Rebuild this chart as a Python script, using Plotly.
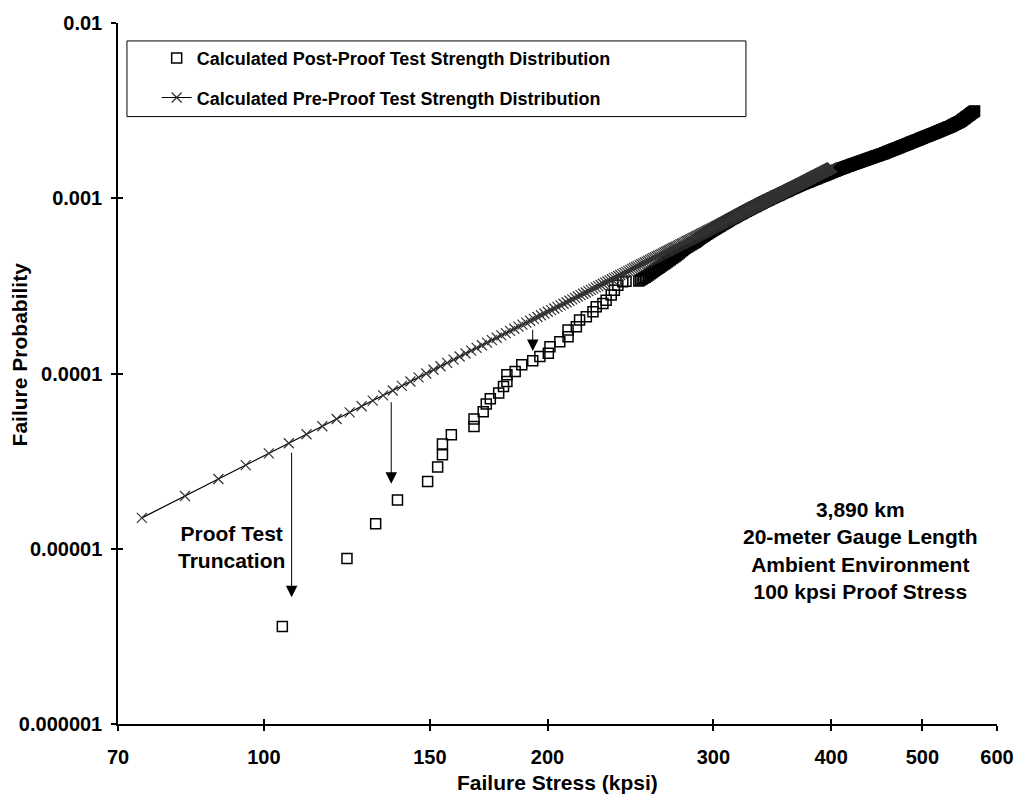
import math
import plotly.graph_objects as go

# ---------------------------------------------------------------- data
# Pre-proof (calculated Weibull) strength distribution: stress in kpsi,
# failure probability in parts per million.
pre_stress = [
    74.20, 82.45, 89.47, 95.65, 101.21, 106.28, 110.97, 115.34, 119.44, 123.30,
    126.98, 130.47, 133.81, 137.01, 140.09, 143.05, 145.92, 148.69, 151.37, 153.97,
    156.50, 158.96, 161.35, 163.69, 165.97, 168.19, 170.37, 172.50, 174.58, 176.63,
    178.63, 180.60, 182.52, 184.41, 186.28, 188.10, 189.90, 191.67, 193.41, 195.13,
    196.82, 198.48, 200.12, 201.74, 203.34, 204.91, 206.47, 208.00, 209.52, 211.01,
    212.49, 213.95, 215.39, 216.82, 218.23, 219.63, 221.00, 222.37, 223.72, 225.05,
    226.38, 227.69, 228.99, 230.27, 231.54, 232.81, 234.06, 235.29, 236.51, 237.73,
    238.93, 240.13, 241.32, 242.50, 243.66, 244.82, 245.96, 247.10, 248.23, 249.34,
    250.46, 251.56, 252.65, 253.73, 254.81, 255.87, 256.94, 257.99, 259.04, 260.07,
    261.11, 262.13, 263.15, 264.16, 265.17, 266.16, 267.16, 268.14, 269.12, 270.10,
    271.06, 272.02, 272.98, 273.93, 274.87, 275.81, 276.75, 277.67, 278.59, 279.51,
    280.42, 281.33, 282.23, 283.13, 284.02, 284.91, 285.79, 286.67, 287.54, 288.41,
    289.28, 290.13, 290.99, 291.84, 292.69, 293.52, 294.37, 295.20, 296.03, 296.86,
    297.68, 298.50, 299.32, 300.13, 300.93, 301.73, 302.54, 303.33, 304.13, 304.91,
    305.70, 306.47, 307.25, 308.03, 308.80, 309.57, 310.33, 311.09, 311.84, 312.60,
    313.35, 314.11, 314.85, 315.59, 316.33, 317.06, 317.80, 318.53, 319.25, 319.96,
    320.68, 321.40, 322.11, 322.83, 323.54, 324.26, 324.97, 325.69, 326.38, 327.07,
    327.76, 328.45, 329.14, 329.82, 330.51, 331.20, 331.89, 332.58, 333.25, 333.91,
    334.58, 335.24, 335.91, 336.57, 337.24, 337.90, 338.57, 339.23, 339.87, 340.52,
    341.16, 341.81, 342.45, 343.09, 343.74, 344.38, 345.03, 345.67, 346.29, 346.92,
    347.54, 348.17, 348.79, 349.41, 350.04, 350.66, 351.29, 351.91, 352.52, 353.12,
    353.73, 354.33, 354.94, 355.54, 356.15, 356.75, 357.36, 357.96, 358.55, 359.13,
    359.72, 360.31, 360.90, 361.48, 362.07, 362.66, 363.24, 363.83, 364.40, 364.97,
    365.55, 366.12, 366.69, 367.26, 367.83, 368.41, 368.98, 369.55, 370.11, 370.66,
    371.22, 371.77, 372.34, 372.89, 373.45, 374.01, 374.56, 375.12, 375.66, 376.21,
    376.75, 377.29, 377.84, 378.38, 378.92, 379.46, 380.01, 380.55, 381.08, 381.61,
    382.14, 382.67, 383.20, 383.73, 384.26, 384.79, 385.32, 385.85, 386.37, 386.89,
    387.40, 387.92, 388.44, 388.96, 389.48, 389.99, 390.51, 391.03, 391.54, 392.04,
    392.55, 393.05, 393.56, 394.07, 394.57, 395.08, 395.58, 396.09, 396.59, 397.08,
    397.58, 398.07, 398.57, 399.07, 399.56, 400.06, 400.55, 401.04,
]
pre_prob_ppm = [
    15, 20, 25, 30, 35, 40, 45, 50, 55, 60, 65, 70, 75, 80, 85, 90, 95, 100, 105, 110,
    115, 120, 125, 130, 135, 140, 145, 150, 155, 160, 165, 170, 175, 180, 185, 190, 195, 200, 205, 210,
    215, 220, 225, 230, 235, 240, 245, 250, 255, 260, 265, 270, 275, 280, 285, 290, 295, 300, 305, 310,
    315, 320, 325, 330, 335, 340, 345, 350, 355, 360, 365, 370, 375, 380, 385, 390, 395, 400, 405, 410,
    415, 420, 425, 430, 435, 440, 445, 450, 455, 460, 465, 470, 475, 480, 485, 490, 495, 500, 505, 510,
    515, 520, 525, 530, 535, 540, 545, 550, 555, 560, 565, 570, 575, 580, 585, 590, 595, 600, 605, 610,
    615, 620, 625, 630, 635, 640, 645, 650, 655, 660, 665, 670, 675, 680, 685, 690, 695, 700, 705, 710,
    715, 720, 725, 730, 735, 740, 745, 750, 755, 760, 765, 770, 775, 780, 785, 790, 795, 800, 805, 810,
    815, 820, 825, 830, 835, 840, 845, 850, 855, 860, 865, 870, 875, 880, 885, 890, 895, 900, 905, 910,
    915, 920, 925, 930, 935, 940, 945, 950, 955, 960, 965, 970, 975, 980, 985, 990, 995, 1000, 1005, 1010,
    1015, 1020, 1025, 1030, 1035, 1040, 1045, 1050, 1055, 1060, 1065, 1070, 1075, 1080, 1085, 1090, 1095, 1100, 1105, 1110,
    1115, 1120, 1125, 1130, 1135, 1140, 1145, 1150, 1155, 1160, 1165, 1170, 1175, 1180, 1185, 1190, 1195, 1200, 1205, 1210,
    1215, 1220, 1225, 1230, 1235, 1240, 1245, 1250, 1255, 1260, 1265, 1270, 1275, 1280, 1285, 1290, 1295, 1300, 1305, 1310,
    1315, 1320, 1325, 1330, 1335, 1340, 1345, 1350, 1355, 1360, 1365, 1370, 1375, 1380, 1385, 1390, 1395, 1400, 1405, 1410,
    1415, 1420, 1425, 1430, 1435, 1440, 1445, 1450, 1455, 1460, 1465, 1470, 1475, 1480, 1485, 1490, 1495, 1500,
]

# Post-proof (measured) strength distribution: stress in kpsi,
# failure probability in parts per million.
post_stress = [
    104.6, 122.5, 131.4, 138.6, 149.2, 152.9, 154.7, 154.7, 158.1, 167.1,
    167.1, 170.9, 172.2, 173.9, 177.5, 179.6, 181.1, 181.1, 184.8, 187.8,
    192.9, 196.3, 200.4, 201.2, 206.1, 210.3, 210.3, 214.6, 216.3, 219.9,
    223.5, 225.3, 229.0, 230.8, 233.7, 235.5, 237.5, 240.4, 242.3,
    250, 251, 252, 253, 254, 255, 256, 257, 258, 259, 260, 261, 262, 263, 264, 265, 266, 267, 268, 269,
    270, 271, 272, 273, 274, 275, 276, 277, 278, 279, 280, 281, 282, 283, 284, 285, 286, 287, 288, 289,
    290, 291, 292, 293, 294, 295, 296, 297, 298, 299, 300, 301, 302, 303, 304, 305, 306, 307, 308, 309,
    310, 311, 312, 313, 314, 315, 316, 317, 318, 319, 320, 321, 322, 323, 324, 325, 326, 327, 328, 329,
    330, 331, 332, 333, 334, 335, 336, 337, 338, 339, 340, 341, 342, 343, 344, 345, 346, 347, 348, 349,
    350, 351, 352, 353, 354, 355, 356, 357, 358, 359, 360, 361, 362, 363, 364, 365, 366, 367, 368, 369,
    370, 371, 372, 373, 374, 375, 376, 377, 378, 379, 380, 381, 382, 383, 384, 385, 386, 387, 388, 389,
    390, 391, 392, 393, 394, 395, 396, 397, 398, 399, 400, 401, 402, 403, 404, 405, 406, 407, 408, 409,
    410, 411, 412, 413, 414, 415, 416, 417, 418, 419, 420, 421, 422, 423, 424, 425, 426, 427, 428, 429,
    430, 431, 432, 433, 434, 435, 436, 437, 438, 439, 440, 441, 442, 443, 444, 445, 446, 447, 448, 449,
    450, 451, 452, 453, 454, 455, 456, 457, 458, 459, 460, 461, 462, 463, 464, 465, 466, 467, 468, 469,
    470, 471, 472, 473, 474, 475, 476, 477, 478, 479, 480, 481, 482, 483, 484, 485, 486, 487, 488, 489,
    490, 491, 492, 493, 494, 495, 496, 497, 498, 499, 500, 501, 502, 503, 504, 505, 506, 507, 508, 509,
    510, 511, 512, 513, 514, 515, 516, 517, 518, 519, 520, 521, 522, 523, 524, 525, 526, 527, 528, 529,
    530, 531, 532, 533, 534, 535, 536, 537, 538, 539, 540, 541, 542, 543, 544, 545, 546, 547, 548, 549,
    550, 551, 552, 553, 554, 555, 556, 557, 558, 559, 560, 561, 562, 563, 564, 565, 566, 567, 568,
]
post_prob_ppm = [
    3.6, 8.8, 13.9, 19.0, 24.2, 29.3, 34.4, 39.6, 44.7, 49.9,
    55.0, 60.5, 66.9, 71.8, 77.3, 84.4, 90.1, 98.3, 102.7, 112.0,
    118.1, 124.9, 130.4, 142.3, 152.0, 162.3, 177.2, 184.9, 201.9, 210.8,
    225.1, 240.3, 250.8, 262.2, 280.1, 298.9, 319.2, 333.3, 336.0,
    337.6, 341.8, 346.0, 350.2, 354.4, 359.6, 365.1, 370.6, 376.2, 381.7, 387.2, 392.9, 398.7, 404.5, 410.3, 416.2, 422.0, 427.8, 434.0, 440.2,
    446.4, 452.6, 458.8, 465.0, 472.0, 479.7, 487.4, 495.2, 502.9, 510.6, 518.4, 524.8, 531.0, 537.1, 543.3, 549.4, 555.5, 561.7, 569.2, 577.0,
    584.7, 592.4, 600.1, 607.8, 615.5, 622.8, 630.0, 637.3, 644.5, 651.7, 659.0, 666.2, 673.4, 680.7, 688.0, 695.5, 703.0, 710.5, 718.0, 725.4,
    732.9, 740.4, 747.9, 755.4, 762.8, 770.3, 777.8, 785.1, 792.4, 799.7, 807.0, 814.3, 821.7, 829.0, 836.3, 843.6, 850.9, 858.2, 865.5, 872.8,
    880.2, 887.6, 895.1, 902.6, 910.0, 917.5, 925.0, 932.4, 939.9, 947.3, 954.8, 962.3, 969.7, 977.2, 984.7, 992.1, 999.6, 1007.0, 1014.5, 1022.0,
    1029.4, 1036.9, 1044.4, 1051.8, 1059.3, 1066.8, 1074.2, 1081.7, 1089.5, 1097.3, 1105.2, 1113.0, 1120.8, 1128.6, 1136.4, 1144.3, 1152.1, 1159.9, 1167.7, 1175.5,
    1183.3, 1190.6, 1197.7, 1204.7, 1211.8, 1218.8, 1225.9, 1232.9, 1240.0, 1247.0, 1254.1, 1261.2, 1268.2, 1275.3, 1282.3, 1289.7, 1297.1, 1304.5, 1311.8, 1319.2,
    1326.6, 1334.0, 1341.3, 1348.7, 1356.1, 1363.5, 1370.9, 1378.2, 1385.6, 1393.2, 1400.8, 1408.4, 1416.1, 1423.7, 1431.3, 1438.9, 1446.6, 1454.2, 1461.8, 1469.5,
    1477.1, 1484.7, 1492.3, 1500.0, 1507.0, 1514.0, 1521.1, 1528.1, 1535.1, 1542.1, 1549.2, 1556.2, 1563.2, 1570.2, 1577.3, 1584.3, 1591.3, 1598.3, 1605.3, 1612.4,
    1619.4, 1626.4, 1633.5, 1640.5, 1647.7, 1655.0, 1662.4, 1669.7, 1677.1, 1684.4, 1691.8, 1699.1, 1706.5, 1713.8, 1721.2, 1728.5, 1735.9, 1743.2, 1750.6, 1757.9,
    1765.3, 1772.6, 1780.0, 1787.3, 1794.7, 1802.0, 1810.8, 1819.5, 1828.3, 1837.0, 1845.8, 1854.6, 1863.3, 1872.1, 1880.8, 1889.6, 1898.4, 1907.1, 1915.9, 1924.7,
    1933.4, 1942.2, 1950.9, 1959.7, 1968.5, 1977.2, 1986.0, 1994.7, 2003.7, 2012.9, 2022.1, 2031.3, 2040.5, 2049.7, 2058.9, 2068.1, 2077.3, 2086.6, 2095.8, 2105.0,
    2114.2, 2123.4, 2132.6, 2141.8, 2151.0, 2160.2, 2169.8, 2179.4, 2189.1, 2198.8, 2208.5, 2218.1, 2227.8, 2237.5, 2247.2, 2256.8, 2266.5, 2276.2, 2285.8, 2295.5,
    2305.2, 2314.9, 2324.5, 2334.2, 2344.1, 2354.5, 2364.9, 2375.3, 2385.6, 2396.0, 2406.4, 2416.7, 2427.1, 2437.5, 2447.9, 2458.2, 2468.6, 2479.0, 2489.3, 2499.7,
    2510.0, 2520.4, 2530.8, 2541.2, 2551.5, 2561.9, 2574.2, 2587.5, 2600.7, 2613.9, 2627.1, 2640.3, 2653.5, 2666.7, 2679.9, 2693.1, 2706.3, 2719.5, 2732.7, 2750.4,
    2771.0, 2791.7, 2812.3, 2833.0, 2853.6, 2874.3, 2894.9, 2915.6, 2936.2, 2956.9, 2977.9, 2999.1, 3020.2, 3041.4, 3062.6, 3083.7, 3104.9, 3126.0, 3147.2,
]

# Axis ticks
x_ticks = [70, 100, 150, 200, 300, 400, 500, 600]
y_ticks = [0.000001, 0.00001, 0.0001, 0.001, 0.01]
y_tick_text = ["0.000001", "0.00001", "0.0001", "0.001", "0.01"]

# Proof-test truncation arrows: stress, probability at tail, probability at tip
arrow_stress = [107.0, 136.5, 192.9]
arrow_from = [3.60e-5, 7.0e-5, 1.81e-4]
arrow_to = [5.29e-6, 2.35e-5, 1.345e-4]

# ---------------------------------------------------------------- figure
FONT = "Liberation Sans, Arial, Helvetica, sans-serif"
X_RANGE = [math.log10(70), math.log10(600)]
Y_RANGE = [-6, -2]

fig = go.Figure()

fig.add_trace(go.Scatter(
    x=post_stress,
    y=[v * 1e-6 for v in post_prob_ppm],
    mode="markers",
    name="Calculated Post-Proof Test Strength Distribution",
    legendgroup="post",
    marker=dict(symbol="square-open", size=10, color="black",
                line=dict(width=1.5, color="black")),
    hoverinfo="skip",
))

fig.add_trace(go.Scatter(
    x=pre_stress,
    y=[v * 1e-6 for v in pre_prob_ppm],
    mode="lines+markers",
    name="Calculated Pre-Proof Test Strength Distribution",
    legendgroup="pre",
    line=dict(color="black", width=1.2),
    marker=dict(symbol="x-thin", size=10, color="#333333",
                line=dict(width=1.2, color="#333333")),
    hoverinfo="skip",
))

# empty trace that carries the overlaid axes used for the inner half of each tick
fig.add_trace(go.Scatter(x=[], y=[], xaxis="x2", yaxis="y2",
                         showlegend=False, hoverinfo="skip"))

tick_font = dict(family=FONT, size=20, color="black", weight="bold")

fig.update_layout(
    width=1026, height=795,
    margin=dict(l=118, r=22, t=20, b=71),
    paper_bgcolor="white", plot_bgcolor="white",
    font=dict(family=FONT, color="black"),
    showlegend=True,
    xaxis=dict(
        type="log", range=X_RANGE,
        tickvals=x_ticks, ticktext=[str(v) for v in x_ticks],
        ticks="outside", ticklen=5, tickwidth=1.5, tickcolor="black",
        showline=True, linecolor="black", linewidth=1.5,
        showgrid=False, zeroline=False, tickfont=tick_font,
        ticklabelstandoff=9,
    ),
    yaxis=dict(
        type="log", range=Y_RANGE,
        tickvals=y_ticks, ticktext=y_tick_text,
        ticks="outside", ticklen=5, tickwidth=1.5, tickcolor="black",
        showline=True, linecolor="black", linewidth=1.5,
        showgrid=False, zeroline=False, tickfont=tick_font,
        ticklabelstandoff=5,
    ),
    xaxis2=dict(
        type="log", range=X_RANGE, overlaying="x", anchor="y", side="bottom",
        tickvals=x_ticks, ticks="inside", ticklen=5, tickwidth=1.5,
        tickcolor="black", showticklabels=False, showline=False,
        showgrid=False, zeroline=False,
    ),
    yaxis2=dict(
        type="log", range=Y_RANGE, overlaying="y", anchor="x", side="left",
        tickvals=y_ticks, ticks="inside", ticklen=5, tickwidth=1.5,
        tickcolor="black", showticklabels=False, showline=False,
        showgrid=False, zeroline=False,
    ),
    legend=dict(
        x=0.044, y=0.9759, xanchor="left", yanchor="top",
        bgcolor="rgba(0,0,0,0)", borderwidth=0,
        font=dict(family=FONT, size=18, color="black", weight="bold"),
        traceorder="grouped", tracegroupgap=13,
    ),
)

# legend frame
fig.add_shape(type="rect", xref="paper", yref="paper",
              x0=0.0102, x1=0.7144, y0=0.8665, y1=0.9744,
              line=dict(color="black", width=1), fillcolor="rgba(0,0,0,0)",
              layer="above")

# axis titles
title_font = dict(family=FONT, size=21, color="black", weight="bold")
fig.add_annotation(text="Failure Stress (kpsi)", xref="paper", yref="paper",
                   x=0.5, y=-0.0838, xanchor="center", yanchor="middle",
                   showarrow=False, font=title_font)
fig.add_annotation(text="Failure Probability", xref="paper", yref="paper",
                   x=-0.1117, y=0.527, xanchor="center", yanchor="middle",
                   textangle=-90, showarrow=False, font=title_font)

# text labels inside the plot
fig.add_annotation(text="Proof Test<br>Truncation", xref="x", yref="y",
                   x=math.log10(92.3), y=math.log10(1.03e-5),
                   xanchor="center", yanchor="middle", showarrow=False,
                   font=title_font)
fig.add_annotation(text="3,890 km<br>20-meter Gauge Length<br>Ambient Environment<br>100 kpsi Proof Stress",
                   xref="x", yref="y",
                   x=math.log10(429.4), y=math.log10(9.8e-6),
                   xanchor="center", yanchor="middle", showarrow=False,
                   font=title_font)

# truncation arrows
for s, p0, p1 in zip(arrow_stress, arrow_from, arrow_to):
    fig.add_annotation(
        x=math.log10(s), y=math.log10(p1), xref="x", yref="y",
        ax=math.log10(s), ay=math.log10(p0), axref="x", ayref="y",
        text="", showarrow=True, arrowhead=2, arrowsize=2.3,
        arrowwidth=1, arrowcolor="black", standoff=0,
    )

fig.write_html("out.html")
